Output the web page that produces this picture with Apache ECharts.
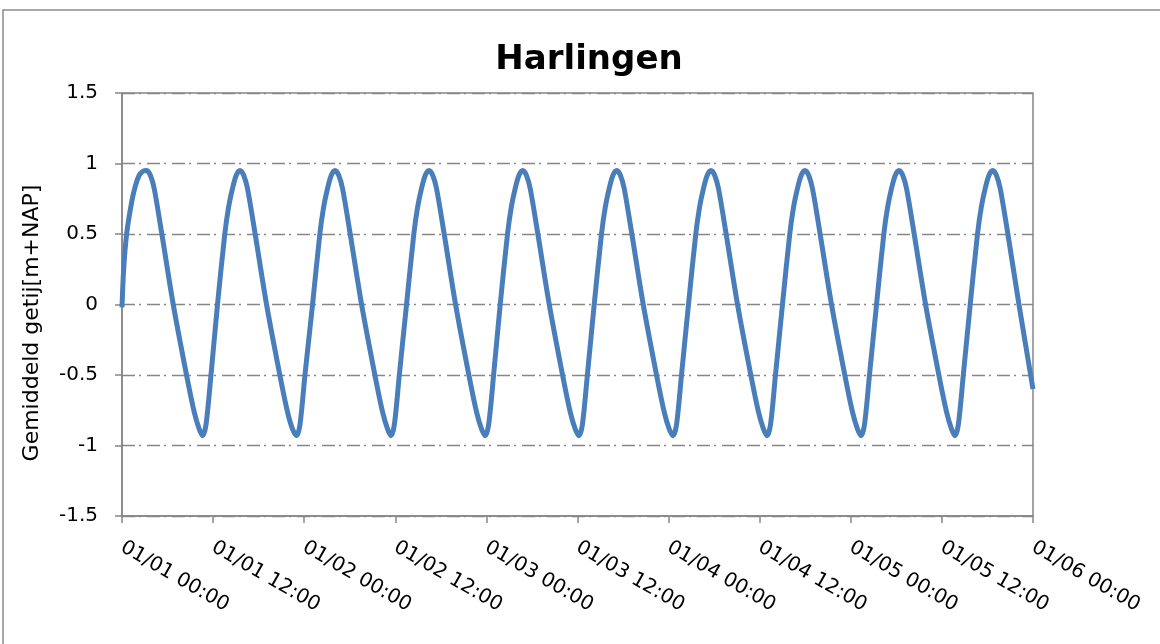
<!DOCTYPE html>
<html>
<head>
<meta charset="utf-8">
<script src="https://cdn.jsdelivr.net/npm/echarts@6/dist/echarts.min.js"></script>
<style>
html,body{margin:0;padding:0;background:#fff;}
#chart{width:1160px;height:644px;}
</style>
</head>
<body>
<div id="chart"></div>
<script>
// Time in hours since 01/01 00:00
const hours = [
  0, 0.22, 0.61, 1.25, 1.75, 2.25, 2.75, 3.25,
  3.75, 4.25, 5.25, 6.75, 8.5, 9.5, 10.15, 10.62,
  11.07, 11.72, 12.58, 13.54, 14.04, 14.54, 15.04, 15.54,
  16.04, 16.54, 17.54, 19.04, 20.79, 21.79, 22.44, 23.0,
  23.45, 24.1, 25.1, 26.06, 26.56, 27.06, 27.56, 28.06,
  28.56, 29.06, 30.06, 31.56, 33.31, 34.31, 34.96, 35.43,
  35.88, 36.53, 37.48, 38.44, 38.94, 39.44, 39.94, 40.44,
  40.94, 41.44, 42.44, 43.94, 45.69, 46.69, 47.34, 47.85,
  48.3, 48.95, 49.82, 50.78, 51.28, 51.78, 52.28, 52.78,
  53.28, 53.78, 54.78, 56.28, 58.03, 59.03, 59.68, 60.2,
  60.65, 61.3, 62.2, 63.16, 63.66, 64.16, 64.66, 65.16,
  65.66, 66.16, 67.16, 68.66, 70.41, 71.41, 72.06, 72.6,
  73.05, 73.7, 74.62, 75.58, 76.08, 76.58, 77.08, 77.58,
  78.08, 78.58, 79.58, 81.08, 82.83, 83.83, 84.48, 84.98,
  85.43, 86.08, 87.0, 87.96, 88.46, 88.96, 89.46, 89.96,
  90.46, 90.96, 91.96, 93.46, 95.21, 96.21, 96.86, 97.36,
  97.81, 98.46, 99.39, 100.35, 100.85, 101.35, 101.85, 102.35,
  102.85, 103.35, 104.35, 105.85, 107.6, 108.6, 109.25, 109.72,
  110.17, 110.82, 111.73, 112.69, 113.19, 113.69, 114.19, 114.69,
  115.19, 115.69, 116.69, 118.15, 120
];
// Water level [m+NAP]
const levels = [
  -0.02, 0.25, 0.5, 0.72, 0.84, 0.915, 0.945, 0.95,
  0.915, 0.82, 0.5, 0.0, -0.5, -0.76, -0.88, -0.93,
  -0.85, -0.5, 0.0, 0.5, 0.69, 0.82, 0.915, 0.95,
  0.915, 0.82, 0.5, 0.0, -0.5, -0.76, -0.88, -0.93,
  -0.85, -0.5, 0.0, 0.5, 0.69, 0.82, 0.915, 0.95,
  0.915, 0.82, 0.5, 0.0, -0.5, -0.76, -0.88, -0.93,
  -0.85, -0.5, 0.0, 0.5, 0.69, 0.82, 0.915, 0.95,
  0.915, 0.82, 0.5, 0.0, -0.5, -0.76, -0.88, -0.93,
  -0.85, -0.5, 0.0, 0.5, 0.69, 0.82, 0.915, 0.95,
  0.915, 0.82, 0.5, 0.0, -0.5, -0.76, -0.88, -0.93,
  -0.85, -0.5, 0.0, 0.5, 0.69, 0.82, 0.915, 0.95,
  0.915, 0.82, 0.5, 0.0, -0.5, -0.76, -0.88, -0.93,
  -0.85, -0.5, 0.0, 0.5, 0.69, 0.82, 0.915, 0.95,
  0.915, 0.82, 0.5, 0.0, -0.5, -0.76, -0.88, -0.93,
  -0.85, -0.5, 0.0, 0.5, 0.69, 0.82, 0.915, 0.95,
  0.915, 0.82, 0.5, 0.0, -0.5, -0.76, -0.88, -0.93,
  -0.85, -0.5, 0.0, 0.5, 0.69, 0.82, 0.915, 0.95,
  0.915, 0.82, 0.5, 0.0, -0.5, -0.76, -0.88, -0.93,
  -0.85, -0.5, 0.0, 0.5, 0.69, 0.82, 0.915, 0.95,
  0.915, 0.82, 0.5, 0.0, -0.6
];
const tickLabels = [
  "01/01 00:00", "01/01 12:00", "01/02 00:00", "01/02 12:00",
  "01/03 00:00", "01/03 12:00", "01/04 00:00", "01/04 12:00",
  "01/05 00:00", "01/05 12:00", "01/06 00:00"
];
const titleText = "Harlingen";
const yName = "Gemiddeld getij[m+NAP]";

const chart = echarts.init(document.getElementById('chart'), null, {renderer: 'canvas'});
const axisGray = '#868686';
const fontFam = 'DejaVu Sans';
chart.setOption({
  animation: false,
  backgroundColor: '#ffffff',
  graphic: [{
    type: 'rect',
    shape: {x: 3, y: 10, width: 1200, height: 700},
    style: {fill: 'none', stroke: '#8c8c8c', lineWidth: 1.5},
    silent: true
  }, {
    type: 'text',
    x: 32, y: 323, rotation: Math.PI / 2,
    style: {text: yName, fontFamily: fontFam, fontSize: 22, fill: '#000', align: 'center', verticalAlign: 'middle'},
    silent: true
  }],
  title: {
    text: titleText,
    left: 584, top: 38, textAlign: 'center',
    textStyle: {fontFamily: fontFam, fontWeight: 'bold', fontSize: 34, color: '#000'}
  },
  grid: {left: 122, right: 127, top: 93, bottom: 128, show: true, borderColor: axisGray, borderWidth: 1.5, backgroundColor: 'transparent'},
  xAxis: {
    type: 'value', min: 0, max: 120, interval: 12,
    axisLine: {show: true, onZero: false, lineStyle: {color: axisGray, width: 1.5}},
    axisTick: {show: true, length: 7, lineStyle: {color: axisGray, width: 1.5}},
    splitLine: {show: false},
    axisLabel: {
      rotate: -30, margin: 30, color: '#000', fontFamily: fontFam, fontSize: 20,
      showMinLabel: true, showMaxLabel: true,
      formatter: v => tickLabels[Math.round(v / 12)]
    }
  },
  yAxis: {
    type: 'value', min: -1.5, max: 1.5, interval: 0.5,
    axisLine: {show: true, lineStyle: {color: axisGray, width: 1.5}},
    axisTick: {show: true, length: 7, lineStyle: {color: axisGray, width: 1.5}},
    splitLine: {show: true, lineStyle: {color: axisGray, width: 1.3, type: [13, 4, 2, 6]}},
    axisLabel: {margin: 24, color: '#000', fontFamily: fontFam, fontSize: 20}
  },
  series: [{
    type: 'line',
    data: hours.map((h, i) => [h, levels[i]]),
    showSymbol: false,
    smooth: 0.3,
    lineStyle: {color: '#4A7EBB', width: 5},
    clip: true
  }]
});
</script>
</body>
</html>
